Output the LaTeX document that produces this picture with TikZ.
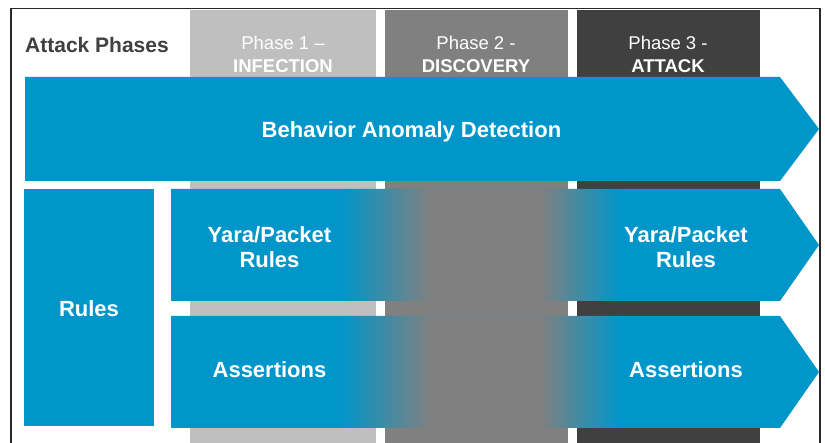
\documentclass[tikz,border=0pt]{standalone}
\usepackage{fontspec}
\setmainfont{Liberation Sans}
\definecolor{bblue}{RGB}{0,150,201}
\definecolor{ph1}{RGB}{191,191,191}
\definecolor{ph2}{RGB}{128,128,128}
\definecolor{ph3}{RGB}{64,64,64}
\definecolor{framec}{RGB}{40,40,40}
\begin{document}
\begin{tikzpicture}[x=1pt,y=-1pt,
  bigtxt/.style={text=white,font=\bfseries\fontsize{22}{25}\selectfont,inner sep=0,anchor=base},
  phtxt/.style={text=white,font=\fontsize{18.5}{22}\selectfont,inner sep=0,anchor=base},
  phbold/.style={phtxt,font=\bfseries\fontsize{18.5}{22}\selectfont},
]
\useasboundingbox (0,0) rectangle (825,443);
\fill[white] (0,0) rectangle (825,443);
% phase columns
\fill[ph1] (190,10) rectangle (376,443);
\fill[ph2] (385,10) rectangle (568,443);
\fill[ph3] (577,10) rectangle (760,443);
% frame
\draw[framec,line width=1.2] (11,443) -- (11,8.5) -- (820,8.5) -- (820,443);
% big arrow
\fill[bblue] (25,77) -- (780,77) -- (819,129) -- (780,181) -- (25,181) -- cycle;
% rules box
\fill[bblue] (24,189) rectangle (154,426);
% rule arrows
\fill[bblue] (171,189) -- (780,189) -- (819,245) -- (780,301) -- (171,301) -- cycle;
\fill[bblue] (171,316) -- (780,316) -- (819,372) -- (780,428) -- (171,428) -- cycle;
% fades (blue -> grey -> blue), drawn as thin strips
\foreach \ya/\yb in {189/301,316/428}{
  \foreach \i in {0,...,45}{
    \pgfmathsetmacro\p{100-100*\i/45}
    \fill[bblue!\p!ph2] ({340+2*\i},\ya) rectangle ({342.6+2*\i},\yb);
  }
  \fill[ph2] (431,\ya) rectangle (541,\yb);
  \foreach \i in {0,...,40}{
    \pgfmathsetmacro\p{100*\i/40}
    \fill[bblue!\p!ph2] ({540+2*\i},\ya) rectangle ({542.6+2*\i},\yb);
  }
}
% header texts
\node[font=\bfseries\fontsize{21}{24}\selectfont,text=ph3,inner sep=0,anchor=base] (ap) at (97,53) {Attack Phases};
\node[phtxt] (p1a) at (283,50) {Phase 1 –};
\node[phbold] (p1b) at (283,73) {INFECTION};
\node[phtxt] (p2a) at (476,50) {Phase 2 -};
\node[phbold] (p2b) at (476,73) {DISCOVERY};
\node[phtxt] (p3a) at (668,50) {Phase 3 -};
\node[phbold] (p3b) at (668,73) {ATTACK};
% body texts
\node[bigtxt] (bad) at (411.5,137.5) {Behavior Anomaly Detection};
\node[bigtxt] (rules) at (89,317) {Rules};
\node[bigtxt] (ya1) at (269.5,243) {Yara/Packet};
\node[bigtxt] (ya2) at (269.5,267.5) {Rules};
\node[bigtxt] (as1) at (269.5,378) {Assertions};
\node[bigtxt] (yb1) at (686,243) {Yara/Packet};
\node[bigtxt] (yb2) at (686,267.5) {Rules};
\node[bigtxt] (as2) at (686,378) {Assertions};
\end{tikzpicture}
\end{document}
